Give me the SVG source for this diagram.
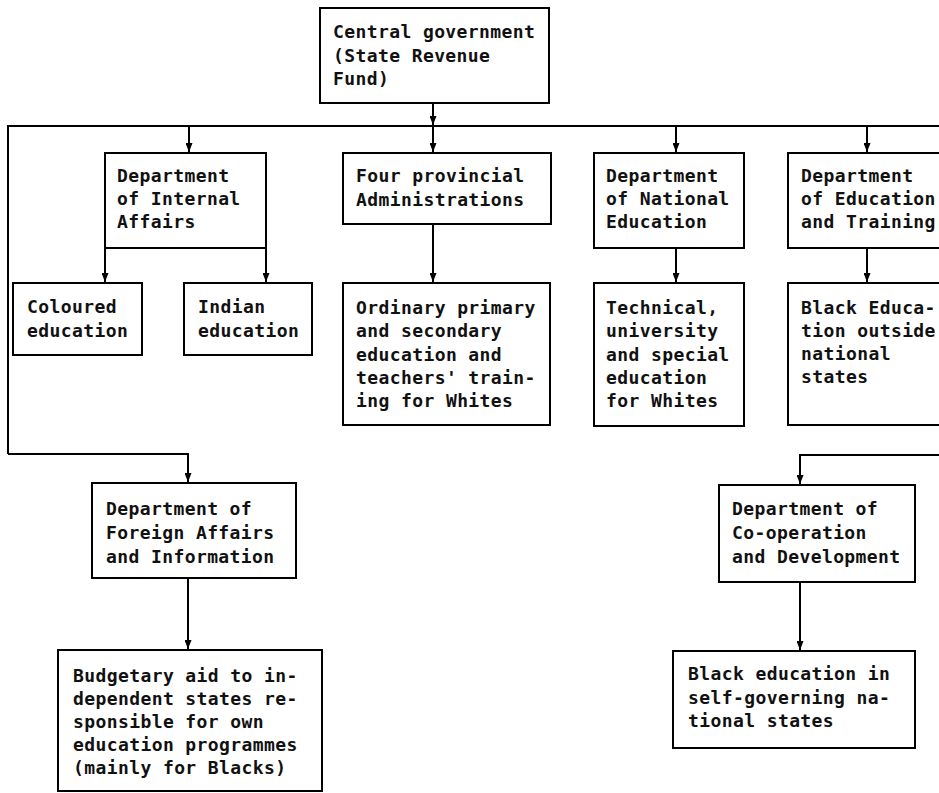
<svg xmlns="http://www.w3.org/2000/svg" width="939" height="793" viewBox="0 0 939 793">
<defs>
<marker id="ah" viewBox="0 0 10 8" refX="10" refY="4" markerWidth="9" markerHeight="7" markerUnits="userSpaceOnUse" orient="auto" preserveAspectRatio="none">
<path d="M0,0 L10,4 L0,8 z" fill="#000"/>
</marker>
<style>
.box{fill:#fff;stroke:#000;stroke-width:2}
.ln{fill:none;stroke:#000;stroke-width:2}
.ar{fill:none;stroke:#000;stroke-width:2;marker-end:url(#ah)}
text{font-family:"DejaVu Sans Mono","Liberation Mono",monospace;font-size:18px;font-weight:bold;letter-spacing:0.4px;fill:#111}
</style>
</defs>
<rect width="939" height="793" fill="#fff"/>
<g id="connectors">
<line class="ar" x1="433" y1="103" x2="433" y2="125"/>
<polyline class="ln" points="8,454 8,126 939,126"/>
<polyline class="ar" points="8,454 188,454 188,482"/>
<line class="ar" x1="189" y1="126" x2="189" y2="152"/>
<line class="ar" x1="433" y1="126" x2="433" y2="152"/>
<line class="ar" x1="676" y1="126" x2="676" y2="152"/>
<line class="ar" x1="867" y1="126" x2="867" y2="152"/>
<line class="ar" x1="105" y1="248" x2="105" y2="282"/>
<line class="ar" x1="266" y1="248" x2="266" y2="282"/>
<line class="ar" x1="433" y1="224" x2="433" y2="282"/>
<line class="ar" x1="676" y1="248" x2="676" y2="282"/>
<line class="ar" x1="867" y1="248" x2="867" y2="282"/>
<polyline class="ar" points="939,455 800,455 800,484"/>
<line class="ar" x1="800" y1="582" x2="800" y2="650"/>
<line class="ar" x1="188" y1="578" x2="188" y2="649"/>
</g>
<g id="central">
<rect class="box" x="320" y="8" width="229" height="95"/>
<text x="333" y="38">Central government</text>
<text x="333" y="62">(State Revenue</text>
<text x="333" y="85">Fund)</text>
</g>
<g id="internal">
<rect class="box" x="105" y="153" width="161" height="95"/>
<text x="117" y="182">Department</text>
<text x="117" y="205">of Internal</text>
<text x="117" y="228">Affairs</text>
</g>
<g id="provincial">
<rect class="box" x="343" y="153" width="208" height="71"/>
<text x="356" y="182">Four provincial</text>
<text x="356" y="206">Administrations</text>
</g>
<g id="national">
<rect class="box" x="594" y="153" width="150" height="95"/>
<text x="606" y="182">Department</text>
<text x="606" y="205">of National</text>
<text x="606" y="228">Education</text>
</g>
<g id="edtraining">
<rect class="box" x="788" y="153" width="160" height="95"/>
<text x="801" y="182">Department</text>
<text x="801" y="205">of Education</text>
<text x="801" y="228">and Training</text>
</g>
<g id="coloured">
<rect class="box" x="13" y="283" width="129" height="72"/>
<text x="27" y="313">Coloured</text>
<text x="27" y="337">education</text>
</g>
<g id="indian">
<rect class="box" x="184" y="283" width="128" height="72"/>
<text x="198" y="313">Indian</text>
<text x="198" y="337">education</text>
</g>
<g id="ordinary">
<rect class="box" x="343" y="283" width="207" height="142"/>
<text x="356" y="314">Ordinary primary</text>
<text x="356" y="337">and secondary</text>
<text x="356" y="361">education and</text>
<text x="356" y="384">teachers' train-</text>
<text x="356" y="407">ing for Whites</text>
</g>
<g id="technical">
<rect class="box" x="594" y="283" width="150" height="143"/>
<text x="606" y="314">Technical,</text>
<text x="606" y="337">university</text>
<text x="606" y="361">and special</text>
<text x="606" y="384">education</text>
<text x="606" y="407">for Whites</text>
</g>
<g id="blackoutside">
<rect class="box" x="788" y="283" width="160" height="142"/>
<text x="801" y="314">Black Educa-</text>
<text x="801" y="337">tion outside</text>
<text x="801" y="360">national</text>
<text x="801" y="383">states</text>
</g>
<g id="foreign">
<rect class="box" x="92" y="483" width="204" height="95"/>
<text x="106" y="515">Department of</text>
<text x="106" y="539">Foreign Affairs</text>
<text x="106" y="563">and Information</text>
</g>
<g id="budgetary">
<rect class="box" x="58" y="650" width="264" height="141"/>
<text x="73" y="682">Budgetary aid to in-</text>
<text x="73" y="705">dependent states re-</text>
<text x="73" y="728">sponsible for own</text>
<text x="73" y="751">education programmes</text>
<text x="73" y="774">(mainly for Blacks)</text>
</g>
<g id="cooperation">
<rect class="box" x="719" y="485" width="196" height="97"/>
<text x="732" y="515">Department of</text>
<text x="732" y="539">Co-operation</text>
<text x="732" y="563">and Development</text>
</g>
<g id="blackself">
<rect class="box" x="673" y="651" width="242" height="97"/>
<text x="688" y="680">Black education in</text>
<text x="688" y="704">self-governing na-</text>
<text x="688" y="727">tional states</text>
</g>
</svg>
